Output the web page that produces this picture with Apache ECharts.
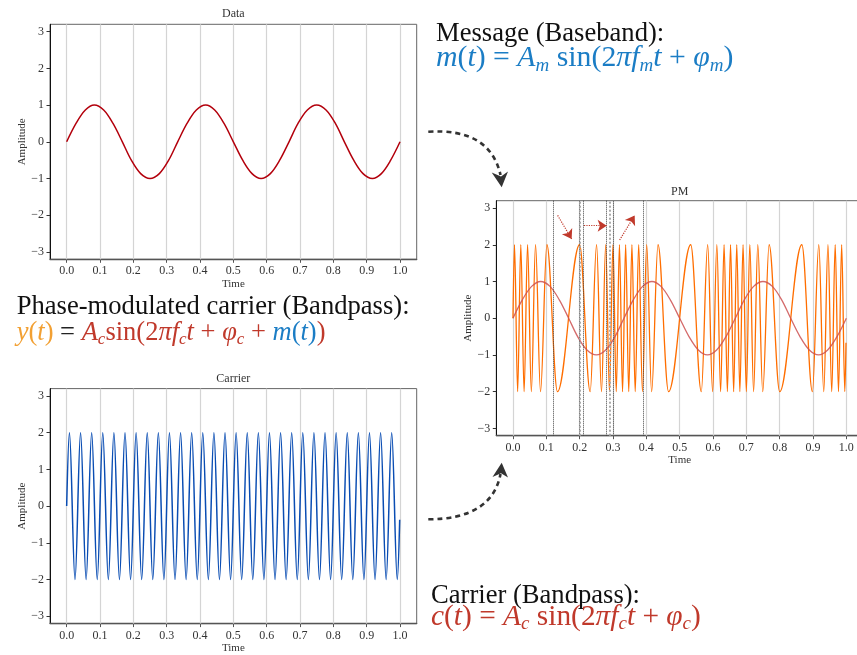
<!DOCTYPE html>
<html>
<head>
<meta charset="utf-8">
<script src="https://cdn.jsdelivr.net/npm/echarts@6/dist/echarts.min.js"></script>
<style>html,body{margin:0;padding:0;background:#fff}#chart{width:857px;height:655px}</style>
</head>
<body>
<div id="chart"></div>
<script>
// message m(t), read every 1/36 s
var msgTime = [0, 0.028, 0.056, 0.083, 0.111, 0.139, 0.167, 0.194, 0.222, 0.25, 0.278, 0.306,
    0.333, 0.361, 0.389, 0.417, 0.444, 0.472, 0.5, 0.528, 0.556, 0.583, 0.611, 0.639,
    0.667, 0.694, 0.722, 0.75, 0.778, 0.806, 0.833, 0.861, 0.889, 0.917, 0.944, 0.972, 1.0];
var msgAmp = [0, 0.5, 0.866, 1, 0.866, 0.5, 0, -0.5, -0.866, -1, -0.866, -0.5,
    0, 0.5, 0.866, 1, 0.866, 0.5, 0, -0.5, -0.866, -1, -0.866, -0.5,
    0, 0.5, 0.866, 1, 0.866, 0.5, 0, -0.5, -0.866, -1, -0.866, -0.5, 0];

// carrier c(t): start, peaks / troughs, end
var carrierTime = [0,
    0.0083, 0.025, 0.0417, 0.0583, 0.075, 0.0917, 0.1083, 0.125, 0.1417, 0.1583,
    0.175, 0.1917, 0.2083, 0.225, 0.2417, 0.2583, 0.275, 0.2917, 0.3083, 0.325,
    0.3417, 0.3583, 0.375, 0.3917, 0.4083, 0.425, 0.4417, 0.4583, 0.475, 0.4917,
    0.5083, 0.525, 0.5417, 0.5583, 0.575, 0.5917, 0.6083, 0.625, 0.6417, 0.6583,
    0.675, 0.6917, 0.7083, 0.725, 0.7417, 0.7583, 0.775, 0.7917, 0.8083, 0.825,
    0.8417, 0.8583, 0.875, 0.8917, 0.9083, 0.925, 0.9417, 0.9583, 0.975, 0.9917,
    0.999];
var carrierAmp = [0,
    2, -2, 2, -2, 2, -2, 2, -2, 2, -2, 2, -2, 2, -2, 2, -2, 2, -2, 2, -2,
    2, -2, 2, -2, 2, -2, 2, -2, 2, -2, 2, -2, 2, -2, 2, -2, 2, -2, 2, -2,
    2, -2, 2, -2, 2, -2, 2, -2, 2, -2, 2, -2, 2, -2, 2, -2, 2, -2, 2, -2,
    -0.37];

// phase-modulated y(t): start, peaks / troughs, end
var pmTime = [0,
    0.0046, 0.0140, 0.0235, 0.0334, 0.0438, 0.0551, 0.0677, 0.0826, 0.1018, 0.1335,
    0.1998, 0.2316, 0.2508, 0.2656, 0.2782, 0.2895, 0.3000, 0.3098, 0.3194, 0.3287,
    0.3380, 0.3473, 0.3568, 0.3667, 0.3771, 0.3884, 0.4011, 0.4159, 0.4351, 0.4668,
    0.5332, 0.5649, 0.5841, 0.5989, 0.6116, 0.6229, 0.6333, 0.6432, 0.6527, 0.6620,
    0.6713, 0.6806, 0.6902, 0.7000, 0.7105, 0.7218, 0.7344, 0.7492, 0.7684, 0.8002,
    0.8665, 0.8982, 0.9174, 0.9323, 0.9449, 0.9562, 0.9666, 0.9765, 0.9860, 0.9954,
    0.999];
var pmAmp = [0,
    2, -2, 2, -2, 2, -2, 2, -2, 2, -2, 2, -2, 2, -2, 2, -2, 2, -2, 2, -2,
    2, -2, 2, -2, 2, -2, 2, -2, 2, -2, 2, -2, 2, -2, 2, -2, 2, -2, 2, -2,
    2, -2, 2, -2, 2, -2, 2, -2, 2, -2, 2, -2, 2, -2, 2, -2, 2, -2, 2, -2,
    -0.67];

// dotted markers in the PM panel
var pmMarksDark = [0.117, 0.197, 0.208, 0.285, 0.300, 0.385];
var pmMarksLight = [0.202, 0.295];

var xTicks = [0, 0.1, 0.2, 0.3, 0.4, 0.5, 0.6, 0.7, 0.8, 0.9, 1.0];
var yTicks = [-3, -2, -1, 0, 1, 2, 3];

var SERIF = '"Liberation Serif", "DejaVu Serif", serif';
var BLUE = '#1b7dc5', RED = '#c0392b', ORANGE = '#f2a033';

function zip(xs, ys) {
    return xs.map(function (x, i) { return [x, ys[i]]; });
}

// vertical grid lines, kept under the curves
function gridSeries(gi) {
    return {
        type: 'line', xAxisIndex: gi, yAxisIndex: gi, z: 1, data: [], showSymbol: false,
        markLine: {
            silent: true, symbol: 'none', z: 1, animation: false,
            label: {show: false},
            lineStyle: {color: '#d4d4d4', width: 1.2, type: 'solid'},
            data: xTicks.map(function (v) { return {xAxis: v}; })
        }
    };
}

function xAxisFor(gi) {
    return {
        gridIndex: gi, type: 'value', min: -0.05, max: 1.05,
        name: 'Time', nameLocation: 'middle', nameGap: 18,
        nameTextStyle: {fontFamily: SERIF, fontSize: 11, color: '#333'},
        axisLine: {show: true, onZero: false, lineStyle: {color: '#555', width: 1.3}},
        axisTick: {show: true, length: 3.5, customValues: xTicks, lineStyle: {color: '#555'}},
        axisLabel: {customValues: xTicks, margin: 6, fontFamily: SERIF, fontSize: 12, color: '#333',
            formatter: function (v) { return v.toFixed(1); }},
        splitLine: {show: false}
    };
}

function yAxisFor(gi) {
    return {
        gridIndex: gi, type: 'value', min: -3.2, max: 3.2,
        name: 'Amplitude', nameLocation: 'middle', nameGap: 22,
        nameTextStyle: {fontFamily: SERIF, fontSize: 11, color: '#333'},
        axisLine: {show: true, onZero: false, lineStyle: {color: '#111', width: 1}},
        axisTick: {show: true, length: 3.5, customValues: yTicks, lineStyle: {color: '#333'}},
        axisLabel: {customValues: yTicks, margin: 6, fontFamily: SERIF, fontSize: 12, color: '#333',
            formatter: function (v) { return v < 0 ? '\u2212' + (-v) : String(v); }},
        splitLine: {show: false}
    };
}

function gridAt(left, top) {
    return {left: left, top: top, width: 366.7, height: 235,
        show: true, borderColor: '#666', borderWidth: 1,
        containLabel: false, outerBoundsMode: 'none'};
}

function rich(prefix, color, size) {
    var r = {};
    var sub = Math.round(size * 0.65);
    r[prefix + 'i'] = {fontFamily: SERIF, fontStyle: 'italic', fontSize: size, lineHeight: size + 4, fill: color};
    r[prefix + 'r'] = {fontFamily: SERIF, fontSize: size, lineHeight: size + 4, fill: color};
    r[prefix + 's'] = {fontFamily: SERIF, fontStyle: 'italic', fontSize: sub, lineHeight: sub - 4,
        verticalAlign: 'bottom', fill: color};
    return r;
}

function textEl(x, y, text, extra) {
    var style = {text: text, x: x, y: y, fontFamily: SERIF, fontSize: 26.6, fill: '#111',
        align: 'left', verticalAlign: 'middle'};
    if (extra) style.rich = extra;
    return {type: 'text', style: style, silent: true};
}

function smallTitle(x, y, text) {
    return {type: 'text', silent: true, style: {text: text, x: x, y: y, fontFamily: SERIF,
        fontSize: 12, fill: '#333', align: 'center', verticalAlign: 'middle'}};
}

var pmRich = Object.assign({}, rich('o', ORANGE, 26.5), rich('r', RED, 26.5),
    rich('b', BLUE, 26.5), rich('k', '#222', 26.5));

var chart = echarts.init(document.getElementById('chart'));
chart.setOption({
    animation: false,
    grid: [gridAt(50, 24.3), gridAt(496.3, 200.7), gridAt(50, 388.6)],
    xAxis: [xAxisFor(0), xAxisFor(1), xAxisFor(2)],
    yAxis: [yAxisFor(0), yAxisFor(1), yAxisFor(2)],
    series: [
        gridSeries(0), gridSeries(1), gridSeries(2),
        {
            type: 'line', xAxisIndex: 0, yAxisIndex: 0, z: 3,
            data: zip(msgTime, msgAmp), smooth: 0.35, showSymbol: false,
            lineStyle: {color: '#b3000c', width: 1.5}
        },
        {
            type: 'line', xAxisIndex: 1, yAxisIndex: 1, z: 3,
            data: zip(pmTime, pmAmp), smooth: 0.36, smoothMonotone: 'x', showSymbol: false,
            lineStyle: {color: '#ff6e00', width: 1.3}
        },
        {
            type: 'line', xAxisIndex: 1, yAxisIndex: 1, z: 4,
            data: zip(msgTime, msgAmp), smooth: 0.35, showSymbol: false,
            lineStyle: {color: 'rgba(205,80,80,0.85)', width: 1.3},
            markLine: {
                silent: true, symbol: 'none', animation: false, label: {show: false},
                data: pmMarksDark.map(function (v) {
                    return {xAxis: v, lineStyle: {color: '#444', width: 1, type: 'dotted'}};
                }).concat(pmMarksLight.map(function (v) {
                    return {xAxis: v, lineStyle: {color: '#aaa', width: 2, type: 'dotted'}};
                }))
            }
        },
        {
            type: 'line', xAxisIndex: 1, yAxisIndex: 1, z: 5, data: [], showSymbol: false,
            markLine: {
                silent: true, symbol: ['none', 'arrow'], symbolSize: 9, animation: false,
                label: {show: false},
                lineStyle: {color: RED, width: 1.2, type: 'dotted'},
                data: [
                    [{coord: [0.134, 2.80]}, {coord: [0.176, 2.16]}],
                    [{coord: [0.213, 2.52]}, {coord: [0.281, 2.52]}],
                    [{coord: [0.320, 2.13]}, {coord: [0.365, 2.80]}]
                ]
            }
        },
        {
            type: 'line', xAxisIndex: 2, yAxisIndex: 2, z: 3,
            data: zip(carrierTime, carrierAmp), smooth: 0.36, smoothMonotone: 'x', showSymbol: false,
            lineStyle: {color: '#0a4db3', width: 1.5}
        }
    ],
    graphic: [
        smallTitle(233.3, 14, 'Data'),
        smallTitle(679.7, 191.5, 'PM'),
        smallTitle(233.3, 379, 'Carrier'),

        textEl(436, 34.5, 'Message (Baseband):'),
        textEl(436, 58.3,
            '{bi|m}{br|(}{bi|t}{br|) = }{bi|A}{bs|m}{br| sin(2}{bi|\u03c0f}{bs|m}{bi|t}{br| + }{bi|\u03c6}{bs|m}{br|)}',
            rich('b', BLUE, 29.8)),

        textEl(16.7, 307.2, 'Phase-modulated carrier (Bandpass):'),
        textEl(16.7, 332.7,
            '{oi|y}{or|(}{oi|t}{or|)}{kr| = }{ri|A}{rs|c}{rr|sin(2}{ri|\u03c0f}{rs|c}{ri|t}{rr| + }{ri|\u03c6}{rs|c}{rr| + }{bi|m}{br|(}{bi|t}{br|)}{rr|)}',
            pmRich),

        textEl(431, 596.2, 'Carrier (Bandpass):'),
        textEl(431, 617,
            '{ri|c}{rr|(}{ri|t}{rr|) = }{ri|A}{rs|c}{rr| sin(2}{ri|\u03c0f}{rs|c}{ri|t}{rr| + }{ri|\u03c6}{rs|c}{rr|)}',
            rich('r', RED, 29.4)),

        {type: 'bezierCurve', silent: true,
            shape: {x1: 428.3, y1: 131.7, cpx1: 490, cpy1: 128, x2: 500.5, y2: 175},
            style: {stroke: '#333', lineWidth: 2.6, lineDash: [5, 4], fill: null}},
        {type: 'polygon', silent: true,
            shape: {points: [[501.7, 187.3], [491.7, 172.5], [501, 176.5], [508, 171.5]]},
            style: {fill: '#333'}},
        {type: 'bezierCurve', silent: true,
            shape: {x1: 428.3, y1: 519.3, cpx1: 492, cpy1: 519, x2: 500.5, y2: 474},
            style: {stroke: '#333', lineWidth: 2.6, lineDash: [5, 4], fill: null}},
        {type: 'polygon', silent: true,
            shape: {points: [[501.7, 462.7], [492.5, 477], [501, 473.3], [508, 477.5]]},
            style: {fill: '#333'}}
    ]
});
</script>
</body>
</html>
